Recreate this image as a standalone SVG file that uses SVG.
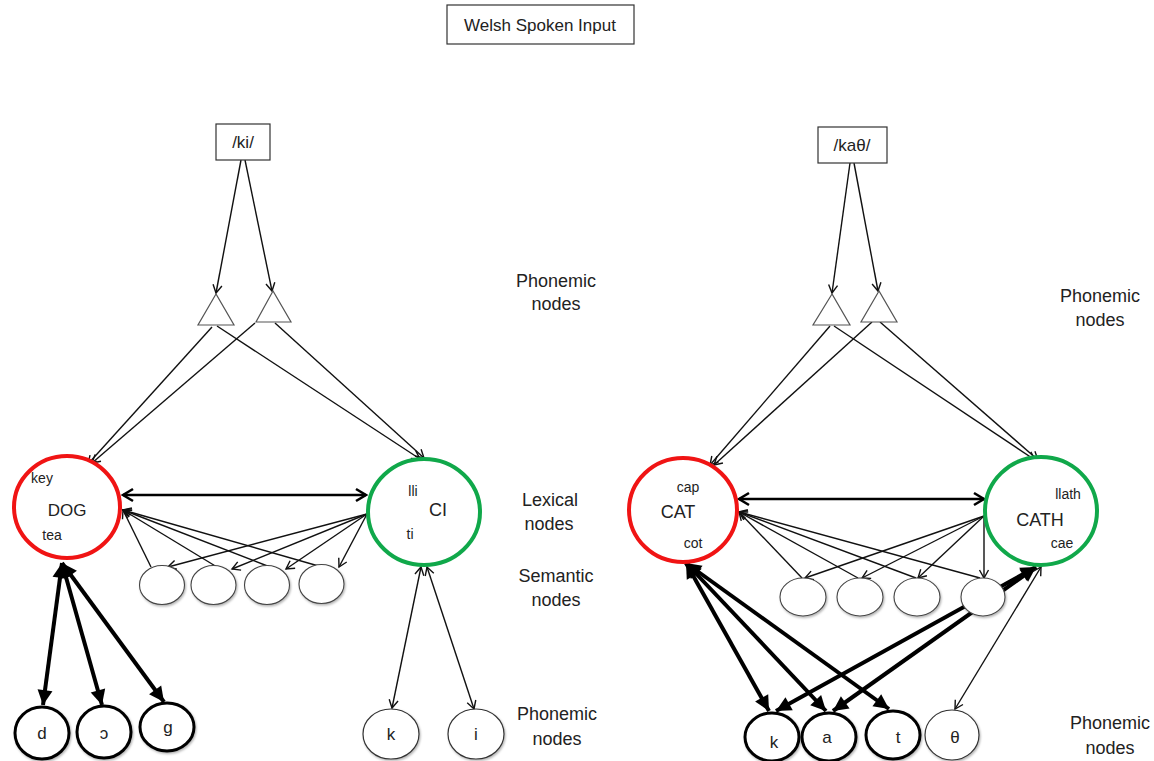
<svg xmlns="http://www.w3.org/2000/svg" width="1154" height="761" viewBox="0 0 1154 761">
  <style>
    text { font-family: "Liberation Sans", Arial, sans-serif; fill: #222; text-anchor: middle; dominant-baseline: central; }
    .lbl { font-size: 18px; }
    .sm { font-size: 14px; }
    .md { font-size: 17px; }
    .ttl { font-size: 17px; }
    .box { fill: #fff; stroke: #333; stroke-width: 1.2; }
    .tri { fill: #fff; stroke: #555; stroke-width: 1.2; }
    .red { fill: #fff; stroke: #f01414; stroke-width: 4; }
    .green { fill: #fff; stroke: #10a84a; stroke-width: 4; }
    .sem { fill: #fff; stroke: #444; stroke-width: 1.1; filter: url(#sh); }
    .ph { fill: #fff; stroke: #000; stroke-width: 3; filter: url(#sh); }
    .phthin { fill: #fff; stroke: #333; stroke-width: 1.2; filter: url(#sh); }
    .thin { stroke: #111; stroke-width: 1.4; fill: none; marker-end: url(#v); }
    .thin2 { stroke: #111; stroke-width: 1.4; fill: none; marker-start: url(#v); marker-end: url(#v); }
    .mid2 { stroke: #000; stroke-width: 2.6; fill: none; marker-start: url(#vb); marker-end: url(#vb); }
    .thick2 { stroke: #000; stroke-width: 4; fill: none; marker-start: url(#f); marker-end: url(#f); }
  </style>
  <defs>
    <filter id="sh" x="-20%" y="-20%" width="150%" height="150%">
      <feDropShadow dx="1" dy="1.5" stdDeviation="1.2" flood-color="#000" flood-opacity="0.3"/>
    </filter>
    <marker id="v" viewBox="-10 -6 12 12" refX="0" refY="0" markerWidth="12" markerHeight="12" markerUnits="userSpaceOnUse" orient="auto-start-reverse">
      <path d="M-8,-4.5 L0,0 L-8,4.5" fill="none" stroke="#111" stroke-width="1.4"/>
    </marker>
    <marker id="vb" viewBox="-13 -8 15 16" refX="0" refY="0" markerWidth="15" markerHeight="16" markerUnits="userSpaceOnUse" orient="auto-start-reverse">
      <path d="M-10,-6 L0,0 L-10,6" fill="none" stroke="#000" stroke-width="2.6"/>
    </marker>
    <marker id="f" viewBox="-17 -9 18 18" refX="0" refY="0" markerWidth="18" markerHeight="18" markerUnits="userSpaceOnUse" orient="auto-start-reverse">
      <path d="M-15,-7.5 L0,0 L-15,7.5 Z" fill="#000"/>
    </marker>
  </defs>

  <!-- connectors -->
  <g id="connectors">
    <!-- left network: input to phoneme triangles -->
    <line class="thin" x1="241" y1="160" x2="216" y2="293"/>
    <line class="thin" x1="245" y1="160" x2="272" y2="291"/>
    <!-- triangles to lexical nodes -->
    <line class="thin" x1="212" y1="327" x2="88" y2="464"/>
    <line class="thin" x1="255" y1="323" x2="92" y2="463"/>
    <line class="thin" x1="217" y1="326" x2="420" y2="459"/>
    <line class="thin" x1="275" y1="323" x2="424" y2="458"/>
    <!-- lexical link -->
    <line class="mid2" x1="123" y1="495" x2="366" y2="495"/>
    <!-- semantic to DOG -->
    <line class="thin" x1="151" y1="567" x2="123" y2="510"/>
    <line class="thin" x1="217" y1="567" x2="123" y2="510"/>
    <line class="thin" x1="270" y1="567" x2="123" y2="510"/>
    <line class="thin" x1="322" y1="567" x2="123" y2="510"/>
    <!-- CI to semantic -->
    <line class="thin" x1="367" y1="514" x2="168" y2="567"/>
    <line class="thin" x1="367" y1="514" x2="232" y2="569"/>
    <line class="thin" x1="367" y1="514" x2="286" y2="569"/>
    <line class="thin" x1="367" y1="514" x2="339" y2="567"/>
    <!-- DOG to phonemes -->
    <line class="thick2" x1="62" y1="563" x2="43" y2="705"/>
    <line class="thick2" x1="62" y1="563" x2="102" y2="705"/>
    <line class="thick2" x1="62" y1="563" x2="164" y2="702"/>
    <!-- CI to phonemes -->
    <line class="thin2" x1="421" y1="567" x2="392" y2="708"/>
    <line class="thin2" x1="427" y1="567" x2="474" y2="709"/>

    <!-- right network: input to phoneme triangles -->
    <line class="thin" x1="850" y1="163" x2="832" y2="293"/>
    <line class="thin" x1="854" y1="163" x2="878" y2="291"/>
    <!-- triangles to lexical nodes -->
    <line class="thin" x1="830" y1="326" x2="710" y2="465"/>
    <line class="thin" x1="872" y1="322" x2="714" y2="465"/>
    <line class="thin" x1="834" y1="326" x2="1035" y2="460"/>
    <line class="thin" x1="880" y1="322" x2="1038" y2="460"/>
    <!-- lexical link -->
    <line class="mid2" x1="739" y1="499" x2="984" y2="499"/>
    <!-- semantic to CAT -->
    <line class="thin" x1="802" y1="578" x2="739" y2="512"/>
    <line class="thin" x1="858" y1="578" x2="739" y2="512"/>
    <line class="thin" x1="916" y1="578" x2="739" y2="512"/>
    <line class="thin" x1="980" y1="578" x2="739" y2="512"/>
    <!-- CATH to semantic -->
    <line class="thin" x1="984" y1="516" x2="805" y2="578"/>
    <line class="thin" x1="984" y1="516" x2="862" y2="578"/>
    <line class="thin" x1="984" y1="516" x2="918" y2="578"/>
    <line class="thin" x1="984" y1="516" x2="984" y2="578"/>
    <!-- CAT to phonemes -->
    <line class="thick2" x1="686" y1="563" x2="769" y2="711"/>
    <line class="thick2" x1="686" y1="563" x2="826" y2="711"/>
    <line class="thick2" x1="686" y1="563" x2="889" y2="709"/>
    <!-- CATH to phonemes -->
    <line class="thick2" x1="1036" y1="567" x2="776" y2="711"/>
    <line class="thick2" x1="1036" y1="567" x2="833" y2="711"/>
    <line class="thin2" x1="1041" y1="567" x2="955" y2="709"/>
  </g>

  <!-- title -->
  <g id="title">
    <rect class="box" x="447" y="5" width="187" height="39"/>
    <text class="ttl" x="540" y="25">Welsh Spoken Input</text>
  </g>

  <!-- level labels -->
  <g id="labels">
    <text class="lbl" x="556" y="281">Phonemic</text>
    <text class="lbl" x="556" y="304">nodes</text>
    <text class="lbl" x="550" y="500">Lexical</text>
    <text class="lbl" x="549" y="524">nodes</text>
    <text class="lbl" x="556" y="576">Semantic</text>
    <text class="lbl" x="556" y="600">nodes</text>
    <text class="lbl" x="557" y="714">Phonemic</text>
    <text class="lbl" x="557" y="739">nodes</text>
    <text class="lbl" x="1100" y="296">Phonemic</text>
    <text class="lbl" x="1100" y="320">nodes</text>
    <text class="lbl" x="1110" y="723">Phonemic</text>
    <text class="lbl" x="1110" y="748">nodes</text>
  </g>

  <!-- left network -->
  <g id="input-ki">
    <rect class="box" x="216" y="124" width="54" height="36"/>
    <text class="md" x="243" y="142">/ki/</text>
  </g>
  <g id="tri-ki-1"><polygon class="tri" points="216,294 198,325 234,325"/></g>
  <g id="tri-ki-2"><polygon class="tri" points="273,291 256,322 291,322"/></g>

  <g id="lex-dog">
    <ellipse class="red" cx="67" cy="507" rx="53" ry="51"/>
    <text class="sm" x="42" y="478">key</text>
    <text class="md" x="67" y="510">DOG</text>
    <text class="sm" x="52" y="535">tea</text>
  </g>
  <g id="lex-ci">
    <ellipse class="green" cx="424" cy="512" rx="56" ry="53"/>
    <text class="sm" x="413" y="491">lli</text>
    <text class="lbl" x="438" y="510">CI</text>
    <text class="sm" x="410" y="534">ti</text>
  </g>

  <g id="sem-l1"><ellipse class="sem" cx="162" cy="585" rx="22.5" ry="19.5"/></g>
  <g id="sem-l2"><ellipse class="sem" cx="213.5" cy="585" rx="22.5" ry="19.5"/></g>
  <g id="sem-l3"><ellipse class="sem" cx="267" cy="585" rx="22.5" ry="19.5"/></g>
  <g id="sem-l4"><ellipse class="sem" cx="321.5" cy="584" rx="22.5" ry="19.5"/></g>

  <g id="ph-d">
    <ellipse class="ph" cx="42" cy="733" rx="27" ry="26"/>
    <text class="md" x="42" y="733">d</text>
  </g>
  <g id="ph-open-o">
    <ellipse class="ph" cx="104" cy="732" rx="27" ry="26"/>
    <text class="md" x="104" y="733">ɔ</text>
  </g>
  <g id="ph-g">
    <ellipse class="ph" cx="167" cy="727" rx="27" ry="24"/>
    <text class="md" x="168" y="727">g</text>
  </g>
  <g id="ph-k-left">
    <ellipse class="phthin" cx="391" cy="734" rx="28" ry="25"/>
    <text class="md" x="391" y="734">k</text>
  </g>
  <g id="ph-i">
    <ellipse class="phthin" cx="476" cy="734" rx="28" ry="25"/>
    <text class="md" x="476" y="734">i</text>
  </g>

  <!-- right network -->
  <g id="input-kath">
    <rect class="box" x="818" y="127" width="69" height="36"/>
    <text class="md" x="852" y="145">/kaθ/</text>
  </g>
  <g id="tri-kath-1"><polygon class="tri" points="832,294 813,325 850,325"/></g>
  <g id="tri-kath-2"><polygon class="tri" points="879,291 861,322 897,322"/></g>

  <g id="lex-cat">
    <ellipse class="red" cx="683" cy="510" rx="54" ry="52"/>
    <text class="sm" x="688" y="487">cap</text>
    <text class="lbl" x="678" y="512">CAT</text>
    <text class="sm" x="693" y="543">cot</text>
  </g>
  <g id="lex-cath">
    <ellipse class="green" cx="1041" cy="511" rx="56" ry="54"/>
    <text class="sm" x="1068" y="494">llath</text>
    <text class="lbl" x="1040" y="520">CATH</text>
    <text class="sm" x="1062" y="543">cae</text>
  </g>

  <g id="sem-r1"><ellipse class="sem" cx="803" cy="597" rx="23" ry="19"/></g>
  <g id="sem-r2"><ellipse class="sem" cx="860" cy="597" rx="23" ry="19"/></g>
  <g id="sem-r3"><ellipse class="sem" cx="917" cy="597" rx="23" ry="19"/></g>
  <g id="sem-r4"><ellipse class="sem" cx="983" cy="597" rx="22" ry="19"/></g>

  <g id="ph-k-right">
    <ellipse class="ph" cx="772" cy="737" rx="27" ry="24"/>
    <text class="md" x="774" y="742">k</text>
  </g>
  <g id="ph-a">
    <ellipse class="ph" cx="829" cy="737" rx="27" ry="24"/>
    <text class="md" x="827" y="737">a</text>
  </g>
  <g id="ph-t">
    <ellipse class="ph" cx="893" cy="735" rx="27" ry="24"/>
    <text class="md" x="898" y="737">t</text>
  </g>
  <g id="ph-theta">
    <ellipse class="phthin" cx="952" cy="735" rx="27" ry="25"/>
    <text class="md" x="955" y="737">θ</text>
  </g>
</svg>
